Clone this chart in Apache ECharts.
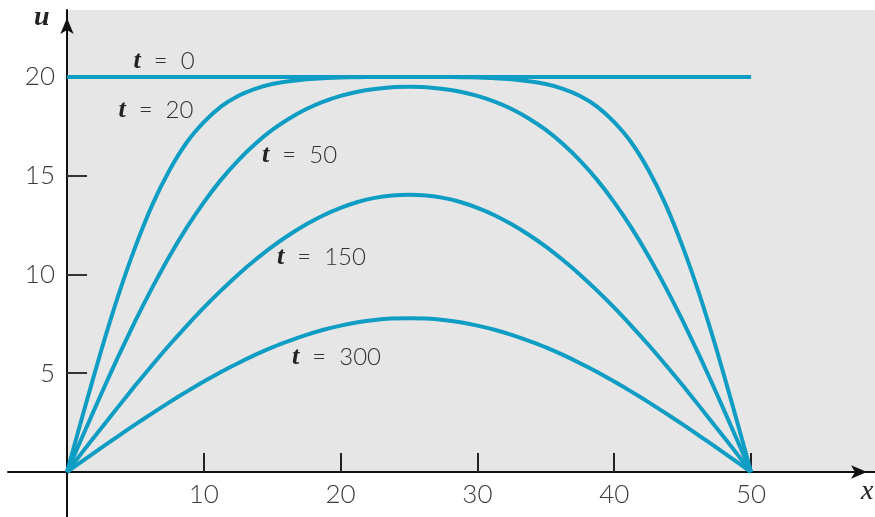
<!DOCTYPE html>
<html>
<head>
<meta charset="utf-8">
<script src="https://cdn.jsdelivr.net/npm/echarts@6/dist/echarts.min.js"></script>
<style>
  html, body { margin: 0; padding: 0; background: #fff; }
  #chart { width: 875px; height: 517px; }
</style>
</head>
<body>
<div id="chart"></div>
<script>
// x positions along the rod
var xs = [0, 1.25, 2.5, 3.75, 5, 6.25, 7.5, 8.75, 10, 11.25, 12.5, 13.75, 15, 16.25, 17.5, 18.75, 20, 21.25, 22.5, 23.75,
  25, 26.25, 27.5, 28.75, 30, 31.25, 32.5, 33.75, 35, 36.25, 37.5, 38.75, 40, 41.25, 42.5, 43.75, 45, 46.25, 47.5, 48.75, 50]

// temperature u
var uT0 = [20, 20, 20, 20, 20, 20, 20, 20, 20, 20, 20, 20, 20, 20, 20, 20, 20, 20, 20, 20,
  20, 20, 20, 20, 20, 20, 20, 20, 20, 20, 20, 20, 20, 20, 20, 20, 20, 20, 20, 20, 20]
var uT20 = [0, 3.13, 6.15, 8.94, 11.41, 13.55, 15.29, 16.68, 17.71, 18.50, 19.04, 19.40, 19.64, 19.78, 19.88, 19.94, 19.97, 19.99, 20, 20,
  20, 20, 20, 19.99, 19.97, 19.94, 19.88, 19.78, 19.64, 19.40, 19.04, 18.50, 17.71, 16.68, 15.29, 13.55, 11.41, 8.94, 6.15, 3.13, 0]
var uT50 = [0, 1.99, 3.95, 5.85, 7.66, 9.36, 10.94, 12.37, 13.65, 14.79, 15.77, 16.61, 17.32, 17.90, 18.38, 18.75, 19.04, 19.25, 19.39, 19.48,
  19.50, 19.48, 19.39, 19.25, 19.04, 18.75, 18.38, 17.90, 17.32, 16.61, 15.77, 14.79, 13.65, 12.37, 10.94, 9.36, 7.66, 5.85, 3.95, 1.99, 0]
var uT150 = [0, 1.12, 2.22, 3.31, 4.39, 5.43, 6.44, 7.40, 8.32, 9.18, 9.99, 10.73, 11.41, 12.01, 12.54, 13.00, 13.37, 13.67, 13.88, 14.00,
  14.04, 14.00, 13.88, 13.67, 13.37, 13.00, 12.54, 12.01, 11.41, 10.73, 9.99, 9.18, 8.32, 7.40, 6.44, 5.43, 4.39, 3.31, 2.22, 1.12, 0]
var uT300 = [0, 0.61, 1.22, 1.82, 2.41, 2.98, 3.54, 4.07, 4.58, 5.06, 5.51, 5.93, 6.31, 6.64, 6.94, 7.20, 7.41, 7.58, 7.70, 7.77,
  7.79, 7.77, 7.70, 7.58, 7.41, 7.20, 6.94, 6.64, 6.31, 5.93, 5.51, 5.06, 4.58, 4.07, 3.54, 2.98, 2.41, 1.82, 1.22, 0.61, 0]

// tick labels
var xTicks = [10, 20, 30, 40, 50]
var yTicks = [5, 10, 15, 20]

// curve labels: text and where they sit (data coords)
var labelTimes = ['0', '20', '50', '150', '300']
var labelX = [7.1, 6.5, 17.0, 18.6, 19.7]
var labelU = [20.8, 18.3, 16.05, 10.85, 5.8]

var X_MIN = -4.313, X_MAX = 59.06
var Y_MIN = -2.278, Y_MAX = 23.39

var LINE_COLOR = '#0f9dc3'
var SANS = 'Lato, "Open Sans", "Noto Sans", sans-serif'
var SERIF = '"Liberation Serif", "DejaVu Serif", serif'

function pairs(vals) {
  return xs.map(function (x, i) { return [x, vals[i]] })
}

function curve(name, vals) {
  return {
    name: name,
    type: 'line',
    data: pairs(vals),
    smooth: 0.2,
    showSymbol: false,
    symbol: 'none',
    z: 4,
    lineStyle: { color: LINE_COLOR, width: 4 },
    silent: true
  }
}

var chart = echarts.init(document.getElementById('chart'))

chart.setOption({
  animation: false,
  grid: { left: 8, right: 0, top: 10, bottom: 0, containLabel: false, outerBoundsMode: 'none' },
  xAxis: {
    type: 'value',
    min: X_MIN,
    max: X_MAX,
    z: 3,
    splitLine: { show: false },
    axisLine: {
      onZero: true,
      symbol: ['none', 'arrow'],
      symbolSize: [10, 16],
      symbolOffset: [0, -8],
      lineStyle: { color: '#111', width: 2 }
    },
    axisTick: { show: true, inside: true, length: 19, customValues: xTicks, lineStyle: { color: '#222', width: 2 } },
    axisLabel: { show: false }
  },
  yAxis: {
    type: 'value',
    min: Y_MIN,
    max: Y_MAX,
    z: 3,
    splitLine: { show: false },
    axisLine: {
      onZero: true,
      symbol: ['none', 'arrow'],
      symbolSize: [10, 16],
      symbolOffset: [0, -8],
      lineStyle: { color: '#111', width: 2 }
    },
    axisTick: { show: true, inside: true, length: 20, customValues: yTicks, lineStyle: { color: '#333', width: 2 } },
    axisLabel: { show: false }
  },
  series: [
    {
      // gray panel behind the curves
      type: 'line',
      data: [],
      z: 1,
      silent: true,
      markArea: {
        silent: true,
        itemStyle: { color: '#e6e6e6' },
        data: [[{ coord: [0, 0] }, { coord: [X_MAX, Y_MAX] }]]
      }
    },
    curve('t = 0', uT0),
    curve('t = 20', uT20),
    curve('t = 50', uT50),
    curve('t = 150', uT150),
    curve('t = 300', uT300)
  ]
})

var tickFont = { fontFamily: SANS, fontWeight: 300, fontSize: 26, fill: '#3a3a3a' }
var texts = []

xTicks.forEach(function (v) {
  var p = chart.convertToPixel({ gridIndex: 0 }, [v, 0])
  texts.push({
    type: 'text', x: p[0], y: p[1] + 10, z: 10,
    style: Object.assign({ text: String(v), align: 'center', verticalAlign: 'top' }, tickFont)
  })
})
yTicks.forEach(function (v) {
  var p = chart.convertToPixel({ gridIndex: 0 }, [0, v])
  texts.push({
    type: 'text', x: p[0] - 12, y: p[1], z: 10,
    style: Object.assign({ text: String(v), align: 'right', verticalAlign: 'middle' }, tickFont)
  })
})

labelTimes.forEach(function (t, i) {
  var p = chart.convertToPixel({ gridIndex: 0 }, [labelX[i], labelU[i]])
  texts.push({
    type: 'text',
    x: p[0],
    y: p[1],
    z: 10,
    style: {
      text: '{t|t}{n|  =  ' + t + '}',
      align: 'center',
      verticalAlign: 'middle',
      rich: {
        t: { fontFamily: SERIF, fontStyle: 'italic', fontWeight: 'bold', fontSize: 26, fill: '#222' },
        n: { fontFamily: SANS, fontWeight: 300, fontSize: 24, fill: '#333' }
      }
    }
  })
})

texts.push({
  type: 'text', left: 34, top: 4, z: 10,
  style: { text: 'u', fontFamily: SERIF, fontStyle: 'italic', fontWeight: 'bold', fontSize: 28, fill: '#222' }
})
texts.push({
  type: 'text', left: 861, top: 478, z: 10,
  style: { text: 'x', fontFamily: SERIF, fontStyle: 'italic', fontSize: 28, fill: '#222' }
})

chart.setOption({ graphic: texts })
</script>
</body>
</html>
